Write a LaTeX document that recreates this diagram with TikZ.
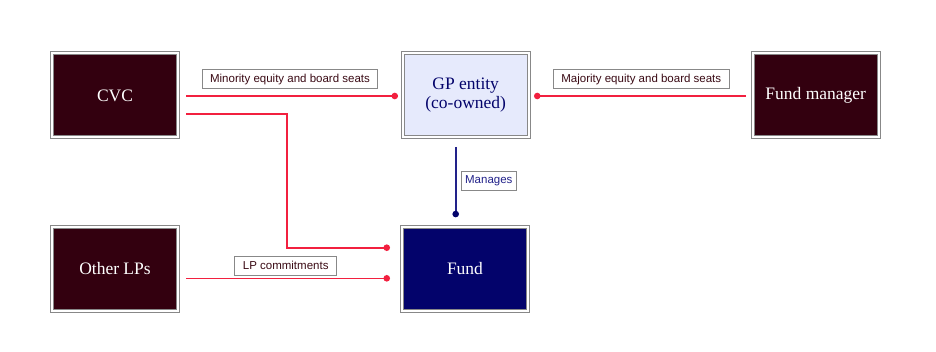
\documentclass[tikz,border=0pt]{standalone}
\usepackage{fontspec}
\setmainfont{Liberation Serif}
\newfontfamily\lblfont{Liberation Sans}
\usetikzlibrary{arrows.meta,calc}
\definecolor{maroon}{HTML}{33000F}
\definecolor{navyfill}{HTML}{03036B}
\definecolor{navyline}{HTML}{22228A}
\definecolor{lightblue}{HTML}{E6EAFC}
\definecolor{linkred}{HTML}{F2203F}
\definecolor{boxgray}{HTML}{888888}
\definecolor{lbltext}{HTML}{3A0A14}
\tikzset{
  x=1pt,y=1pt,
  entity/.style={draw=boxgray, double=white, double distance=2pt, line width=1pt,
    minimum width=126pt, minimum height=84pt, inner sep=0pt, outer sep=0pt,
    font=\fontsize{17.5}{19}\selectfont, align=center},
  darkbox/.style={entity, fill=maroon, text=white},
  gpbox/.style={entity, fill=lightblue, text=navyfill},
  fundbox/.style={entity, fill=navyfill, text=white},
  lbl/.style={draw=boxgray, fill=white, line width=1pt, inner xsep=8pt, inner ysep=0pt,
    text height=8.5pt, text depth=2.5pt, minimum height=19pt,
    font=\lblfont\fontsize{11.5}{13}\selectfont, text=lbltext},
  redlink/.style={draw=linkred, line width=1.6pt, -{Circle[length=6.5pt,fill=linkred]}},
  bluelink/.style={draw=navyline, line width=1.6pt, -{Circle[length=6.5pt,fill=navyfill,color=navyfill]}},
}
\begin{document}
\begin{tikzpicture}
\useasboundingbox (0,0) rectangle (936,351);
\node[darkbox] (cvc) at (115,255.5) {CVC};
\node[gpbox] (gp) at (465.7,255.5) {GP entity\\(co-owned)};
\node[darkbox] (fm) at (815.7,255.5) {Fund manager};
\node[darkbox] (olp) at (115,82.5) {Other LPs};
\node[fundbox] (fund) at (465,82.5) {Fund};
% connectors
\draw[redlink] ([xshift=8pt,yshift=-0.5pt]cvc.east) -- ([xshift=-4.7pt,yshift=-0.5pt]gp.west);
\draw[redlink] ([xshift=-6.7pt,yshift=-0.5pt]fm.west) -- ([xshift=5.3pt,yshift=-0.5pt]gp.east);
\coordinate (bend) at (287,237);
\draw[redlink] ([xshift=8pt,yshift=-18.5pt]cvc.east) -| (bend) |- ([xshift=-12pt,yshift=20.8pt]fund.west);
\draw[redlink] ([xshift=8pt,yshift=-9.8pt]olp.east) -- ([xshift=-12pt,yshift=-9.8pt]fund.west);
\draw[bluelink] ([xshift=-10pt,yshift=-9.4pt]gp.south) -- ([xshift=-9.3pt,yshift=9.2pt]fund.north);
% labels
\node[lbl] (l1) at (290,271.5) {Minority equity and board seats};
\node[lbl] (l2) at (641.3,271.5) {Majority equity and board seats};
\node[lbl] (l3) at (285.7,84.8) {LP commitments};
\node[lbl, text=navyline, inner xsep=4pt] (l4) at (488.8,170.2) {Manages};
\end{tikzpicture}
\end{document}
